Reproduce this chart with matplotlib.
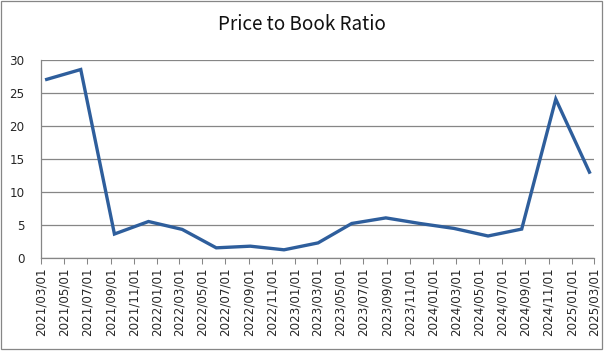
import matplotlib
matplotlib.use('Agg')
import matplotlib.pyplot as plt
import matplotlib.dates as mdates
from matplotlib.patches import Rectangle
import numpy as np
import pandas as pd

# data
dates = ['2021-03-16', '2021-06-14', '2021-09-11', '2021-12-10', '2022-03-09',
         '2022-06-07', '2022-09-05', '2022-12-03', '2023-03-03', '2023-05-31',
         '2023-08-29', '2023-11-27', '2024-02-25', '2024-05-25', '2024-08-22',
         '2024-11-20', '2025-02-17']
pbr = [27.1, 28.6, 3.6, 5.5, 4.3, 1.5, 1.75, 1.2, 2.25, 5.2,
       6.05, 5.2, 4.45, 3.3, 4.35, 24.1, 13.0]
tick_start = '2021-03-01'
tick_end = '2025-03-01'
title = 'Price to Book Ratio'

grey = '#868686'
W, H = 604, 353

fig = plt.figure(figsize=(W / 100, H / 100), dpi=100)
ax = fig.add_axes([41 / W, (H - 257.7) / H, (594 - 41) / W, (257.7 - 60.3) / H])

x = mdates.date2num(pd.to_datetime(dates))
ax.plot(x, pbr, color='#2E5E9C', lw=2.4, solid_joinstyle='miter', clip_on=False)

ticks = pd.date_range(tick_start, tick_end, freq='2MS')
ax.set_xticks(mdates.date2num(ticks))
ax.set_xticklabels([t.strftime('%Y/%m/%d') for t in ticks], rotation=90,
                   fontsize=8.6, color='#262626')
ax.set_xlim(mdates.date2num(pd.Timestamp(tick_start)), mdates.date2num(pd.Timestamp(tick_end)))

ax.set_ylim(0, 30)
ax.set_yticks(np.arange(0, 31, 5))
ax.tick_params(axis='y', length=0, pad=12, labelsize=8.6, labelcolor='#262626')
ax.tick_params(axis='x', length=4, width=0.75, color=grey, pad=3)
ax.yaxis.grid(True, color=grey, lw=0.9)
ax.set_axisbelow(True)

for s in ['top', 'right']:
    ax.spines[s].set_visible(False)
for s in ['left', 'bottom']:
    ax.spines[s].set_color(grey)
    ax.spines[s].set_linewidth(0.9)

fig.text(0.5, 1 - 25 / H, title, ha='center', va='center', fontsize=13.6,
         family=['Noto Sans CJK KR', 'DejaVu Sans'], color='#111111')

fig.add_artist(Rectangle((1 / W, (H - 349) / H), 601 / W, 348 / H,
                         transform=fig.transFigure, fill=False, ec=grey, lw=0.9))

fig.savefig('out.png', dpi=100)
